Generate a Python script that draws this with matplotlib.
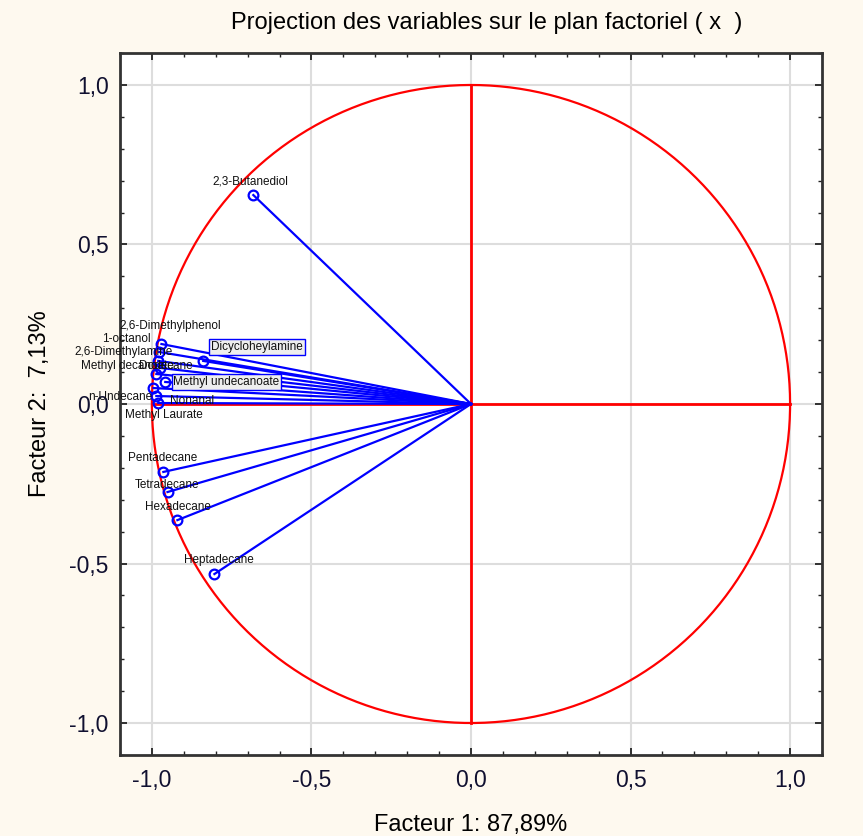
import matplotlib.pyplot as plt
import numpy as np
from matplotlib.ticker import MultipleLocator, FuncFormatter

plt.rcParams['font.family'] = ['Liberation Sans', 'DejaVu Sans']

# variables et coordonnees sur le plan factoriel
noms = ['2,3-Butanediol', '2,6-Dimethylphenol', '1-octanol', '2,6-Dimethylamine',
        'Dicycloheylamine', 'Dodecane', 'Methyl decanoate', 'Methyl undecanoate',
        'n-Undecane', 'Nonanal', 'Methyl Laurate', 'Pentadecane', 'Tetradecane',
        'Hexadecane', 'Heptadecane']
f1 = [-0.682, -0.970, -0.977, -0.980, -0.839, -0.973, -0.986, -0.958,
      -0.995, -0.986, -0.980, -0.964, -0.951, -0.920, -0.804]
f2 = [0.655, 0.188, 0.163, 0.135, 0.135, 0.113, 0.094, 0.069,
      0.050, 0.025, 0.003, -0.213, -0.276, -0.364, -0.533]

# placement des etiquettes (decalage en pixels, alignement, encadre)
decal = {
    '2,3-Butanediol': (-3, 14, 'center', False),
    '2,6-Dimethylphenol': (9, 18, 'center', False),
    '1-octanol': (-9, 13, 'right', False),
    '2,6-Dimethylamine': (14, 9, 'right', False),
    'Dicycloheylamine': (8, 14, 'left', True),
    'Dodecane': (5, 2, 'center', False),
    'Methyl decanoate': (18, 8, 'right', False),
    'Methyl undecanoate': (8, 0, 'left', True),
    'n-Undecane': (-1, -9, 'right', False),
    'Nonanal': (14, -5, 'left', False),
    'Methyl Laurate': (6, -12, 'center', False),
    'Pentadecane': (-1, 14, 'center', False),
    'Tetradecane': (0, 7, 'center', False),
    'Hexadecane': (1, 13, 'center', False),
    'Heptadecane': (4, 14, 'center', False),
}

fond = '#fef9ef'
fig = plt.figure(figsize=(8.63, 8.36), dpi=100, facecolor=fond)
ax = fig.add_axes([0.139, 0.097, 0.8135, 0.8395])

t = np.linspace(0, 2 * np.pi, 400)
ax.plot(np.cos(t), np.sin(t), color='red', lw=1.6, zorder=2)
ax.plot([-1, 1], [0, 0], color='red', lw=2, zorder=2)
ax.plot([0, 0], [-1, 1], color='red', lw=2, zorder=2)

for n, x, y in zip(noms, f1, f2):
    ax.plot([0, x], [0, y], color='blue', lw=1.6, zorder=3)
ax.plot(f1, f2, 'o', ms=7, mfc='none', mec='blue', mew=1.6, zorder=4)

for n, x, y in zip(noms, f1, f2):
    dx, dy, ha, boite = decal[n]
    bb = dict(boxstyle='square,pad=0.15', fc='#eeeeee', ec='blue', lw=1) if boite else None
    ax.annotate(n, (x, y), xytext=(dx, dy), textcoords='offset pixels',
                ha=ha, va='center', fontsize=8.5, color='#111111', bbox=bb, zorder=5)

ax.set_xlim(-1.1, 1.1)
ax.set_ylim(-1.1, 1.1)
for a in (ax.xaxis, ax.yaxis):
    a.set_major_locator(MultipleLocator(0.5))
    a.set_minor_locator(MultipleLocator(0.1))
    a.set_major_formatter(FuncFormatter(lambda v, p: f'{v:.1f}'.replace('.', ',')))
ax.grid(True, which='major', color='#dddddd', lw=1.5, zorder=0)
ax.set_axisbelow(True)
ax.tick_params(which='both', direction='in', top=True, right=True,
               labelsize=16.5, colors='#222222', labelcolor='#101030')
ax.tick_params(axis='x', pad=10)
ax.tick_params(axis='y', pad=8)
ax.tick_params(which='major', length=5, width=1.3)
ax.tick_params(which='minor', length=3, width=1)
for s in ax.spines.values():
    s.set_color('#333333')
    s.set_linewidth(2)

ax.set_xlabel('Facteur 1: 87,89%', fontsize=17, labelpad=16)
ax.set_ylabel('Facteur 2:  7,13%', fontsize=17, labelpad=13)
fig.text(487 / 863, 1 - 23 / 836, 'Projection des variables sur le plan factoriel ( x  )',
         ha='center', va='center', fontsize=17)

plt.savefig('out.png', dpi=100, facecolor=fond)
